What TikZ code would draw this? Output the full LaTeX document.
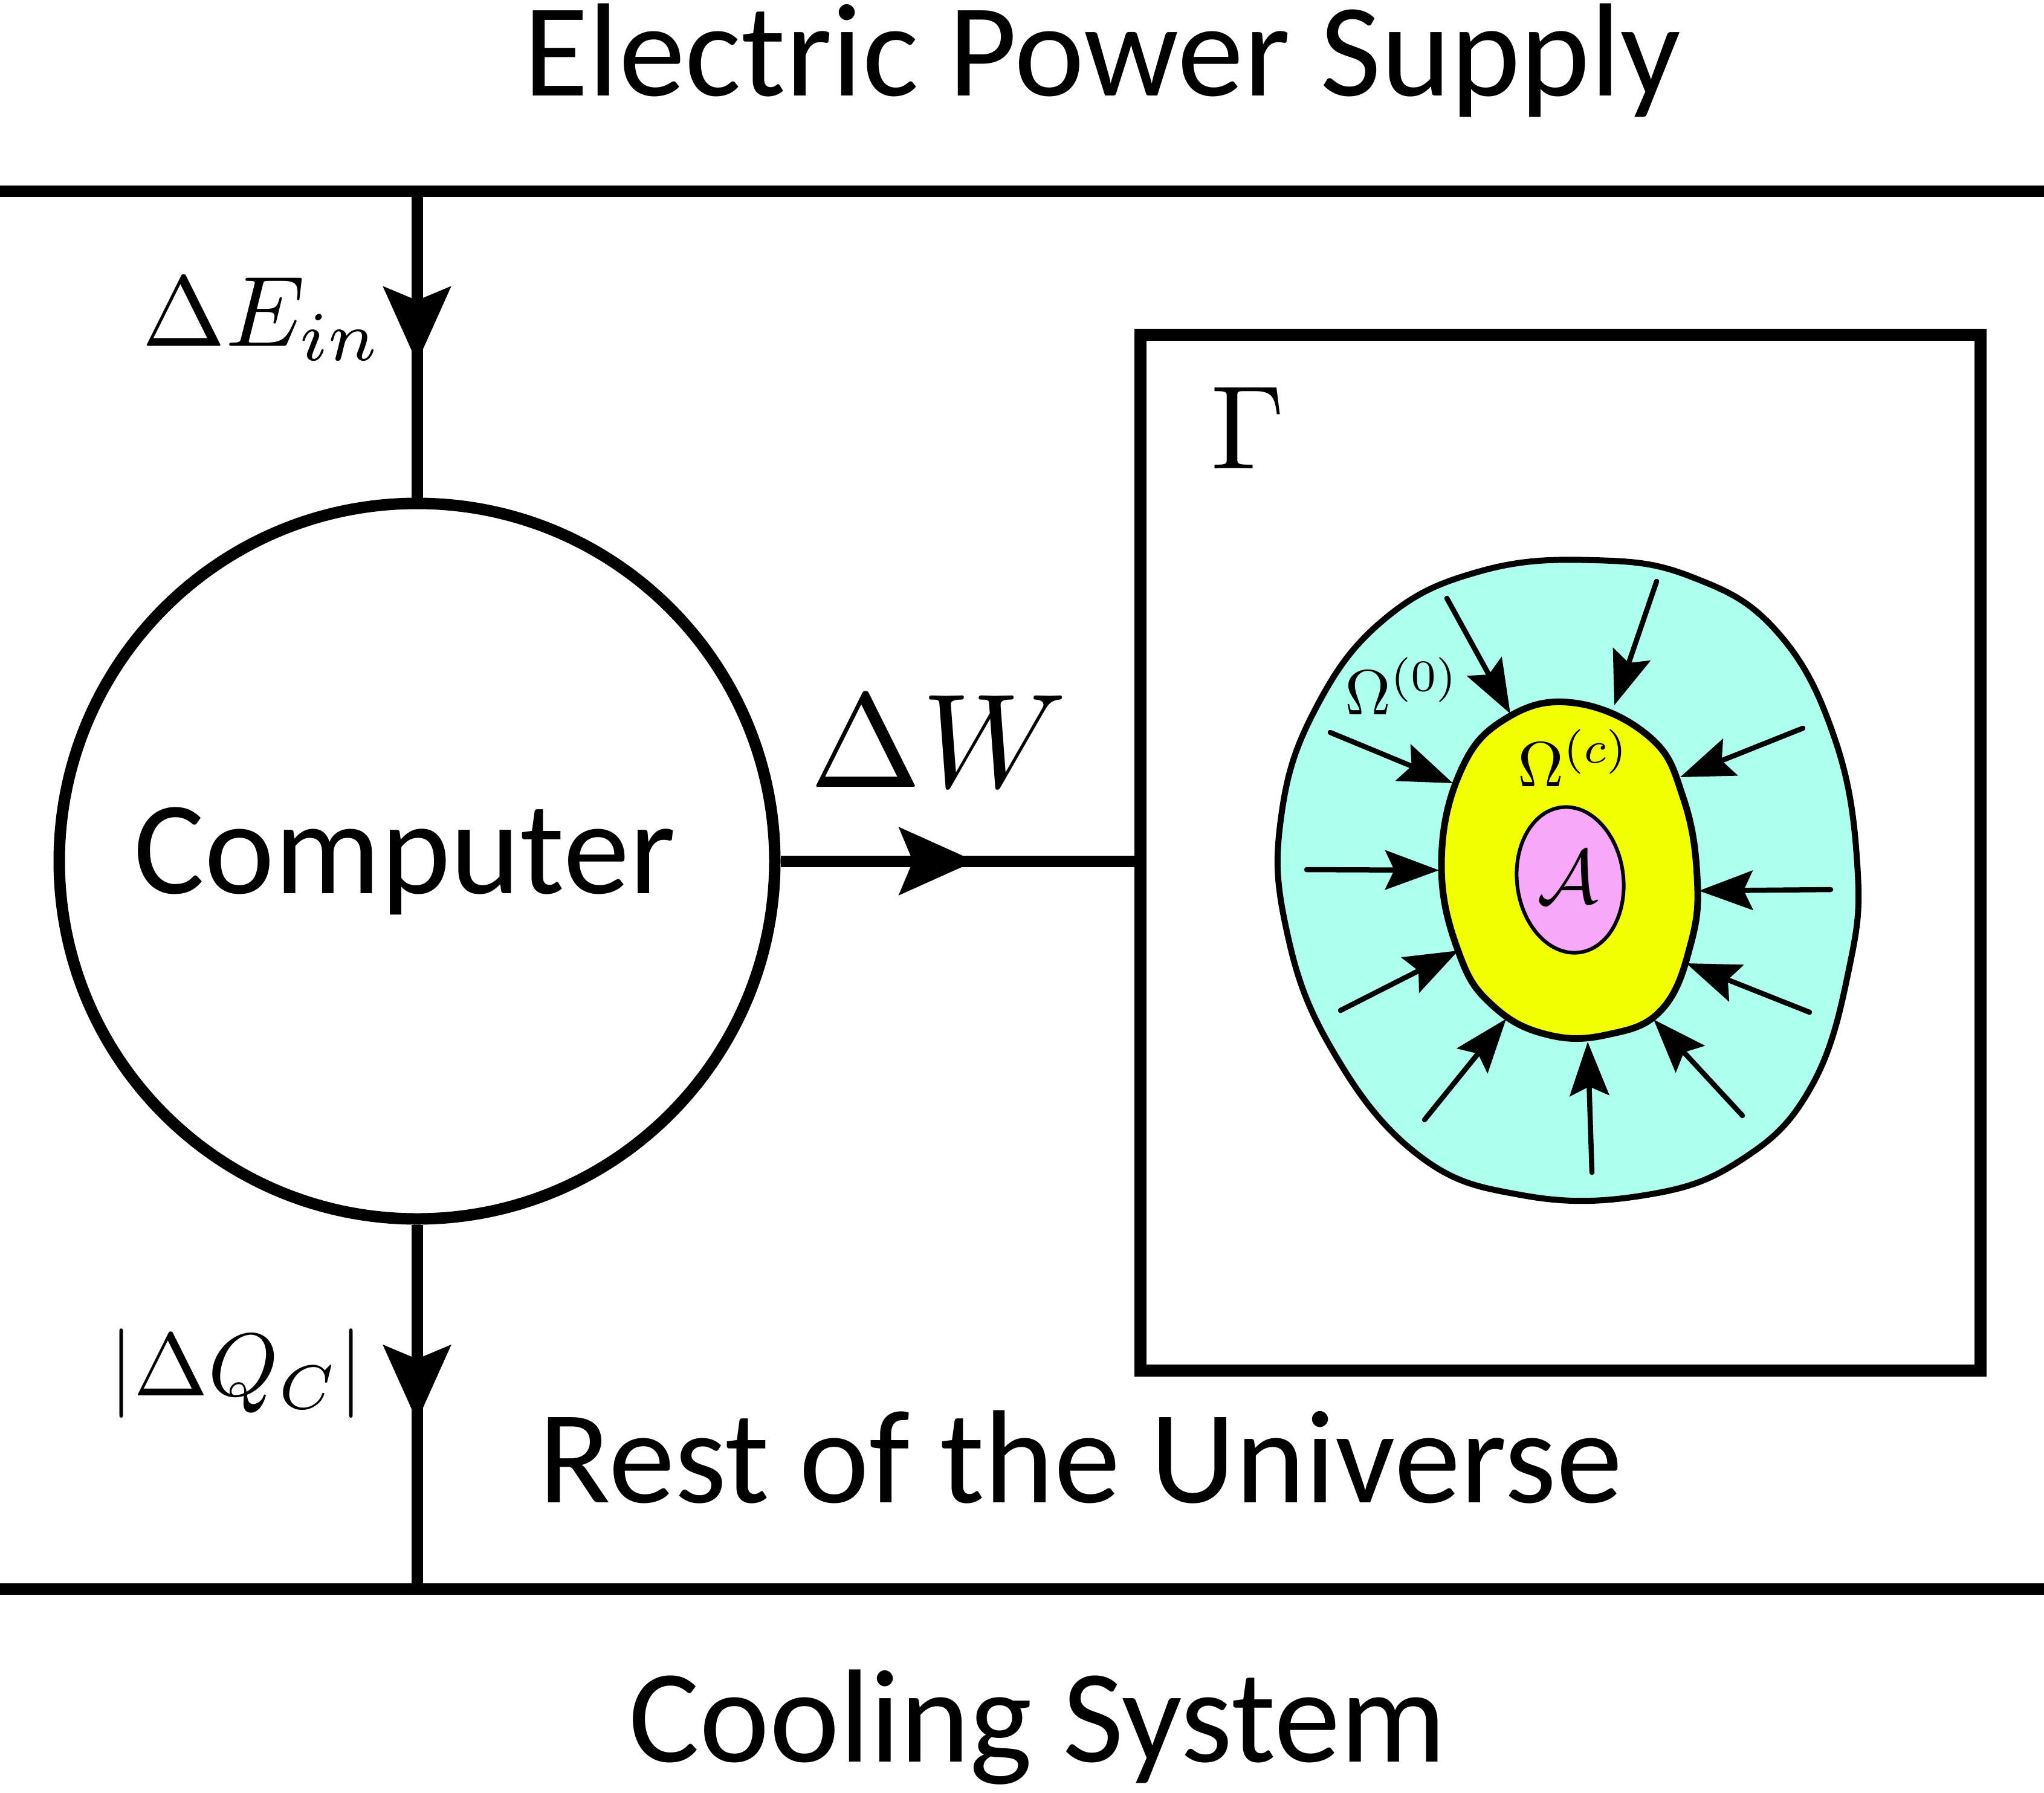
\documentclass[tikz,border=0pt]{standalone}
\usepackage{amsmath,amssymb}
\usepackage{fontspec}
\setmainfont{Carlito}
\usepackage{tikz}
\usetikzlibrary{arrows.meta, positioning, calc, shapes.geometric, decorations.markings}
\definecolor{shellcyan}{RGB}{173,255,238}
\definecolor{coreyellow}{RGB}{242,255,0}
\definecolor{atompink}{RGB}{248,168,248}

\tikzset{
  wire/.style={line width=0.19cm},
  flow/.style={wire, postaction={decorate}, decoration={markings,
    mark=at position #1 with {\arrow{Stealth[length=1.25cm, width=1.1cm, inset=0.22cm]}}}},
  flow/.default=0.55,
  inflow/.style={line width=0.085cm, line cap=round, -{Stealth[length=0.89cm, width=0.65cm, inset=0.15cm]}},
  bigtext/.style={font=\fontsize{62.5}{70}\selectfont},
}

\begin{document}
\begin{tikzpicture}
  \useasboundingbox (0,0) rectangle (33.82,-29.66);
  % rails
  \coordinate (supL) at (0,-3.16);
  \coordinate (supR) at (33.82,-3.16);
  \coordinate (coolL) at (0,-26.29);
  \coordinate (coolR) at (33.82,-26.29);
  \draw[wire] (supL) -- (supR);
  \draw[wire] (coolL) -- (coolR);

  \node[bigtext, anchor=base] (supply) at (18.24,-1.58) {Electric Power Supply};
  \node[bigtext, anchor=base] (rest) at (17.88,-24.86) {Rest of the Universe};
  \node[bigtext, anchor=base] (cooling) at (17.17,-29.15) {Cooling System};

  \node[wire, draw, circle, minimum size=11.84cm] (computer) at (6.90,-14.25) {};
  \node[bigtext] (complbl) at ([xshift=-0.2cm]computer.center) {Computer};
  \node[draw, line width=0.2cm, minimum width=13.9cm, minimum height=17.14cm, inner sep=0] (gamma) at (25.82,-14.11) {};

  \draw[flow=0.56] (supL -| computer.north) -- (computer.north);
  \draw[flow=0.54] (computer.south) -- (computer.south |- coolL);
  \draw[flow=0.55] (computer.east) -- (computer.east -| gamma.west);

  \node[anchor=base, scale=4.7] (ein) at (4.34,-5.72) {$\Delta E_{in}$};
  \node[anchor=base, scale=4.2] (qc) at (3.91,-23.09) {$|\Delta Q_C|$};
  \node[anchor=base, scale=6.3] (dw) at (15.53,-13.02) {$\Delta W$};
  \node[inner sep=0, scale=5.6] (gl) at (20.65,-7.08) {$\Gamma$};

  % outer region
  \draw[fill=shellcyan, line width=0.1cm] plot[smooth cycle, tension=0.7] coordinates {
    (26.39,-9.27) (24.5,-9.45) (22.9,-10.25) (21.76,-11.74) (21.2,-13.5) (21.27,-15.31)
    (22.0,-17.3) (23.45,-19.10) (25.2,-19.78) (27.2,-19.78) (28.8,-19.2) (29.97,-17.98)
    (30.6,-16.0) (30.73,-14.3) (30.35,-12.2) (29.4,-10.45) (28.0,-9.55)};
  % core
  \draw[fill=coreyellow, line width=0.11cm] plot[smooth cycle, tension=0.7] coordinates {
    (26.04,-11.63) (24.9,-11.9) (24.15,-12.8) (23.85,-14.33) (24.15,-15.8) (24.71,-16.65)
    (25.6,-17.12) (26.6,-17.12) (27.5,-16.7) (27.98,-15.6) (28.08,-14.5) (27.85,-13.2) (27.3,-12.2)};
  \node[ellipse, draw, fill=atompink, line width=0.06cm, minimum width=1.76cm, minimum height=2.42cm, rotate=7] (atom) at (25.98,-14.56) {};
  \node[scale=3.6] (atomlbl) at (25.94,-14.51) {$\mathcal{A}$};

  \foreach \sx/\sy/\tx/\ty in {23.94/-9.90/24.99/-11.81, 27.41/-9.62/26.71/-11.67,
      22.01/-12.12/24.04/-12.96, 29.83/-12.05/27.80/-12.86, 21.62/-14.39/23.81/-14.40,
      30.29/-14.72/28.11/-14.74, 22.18/-16.72/24.13/-15.73, 29.94/-16.75/27.90/-15.94,
      23.57/-18.53/24.92/-16.86, 28.83/-18.46/27.36/-16.87, 26.34/-19.40/26.27/-17.24} {
    \draw[inflow] (\sx,\sy) -- (\tx,\ty);
  }

  \node[anchor=base, scale=3.0] (om0) at (23.20,-11.82) {$\Omega^{(0)}$};
  \node[anchor=base, scale=3.0] (omc) at (26.04,-13.01) {$\Omega^{(c)}$};
\end{tikzpicture}
\end{document}
